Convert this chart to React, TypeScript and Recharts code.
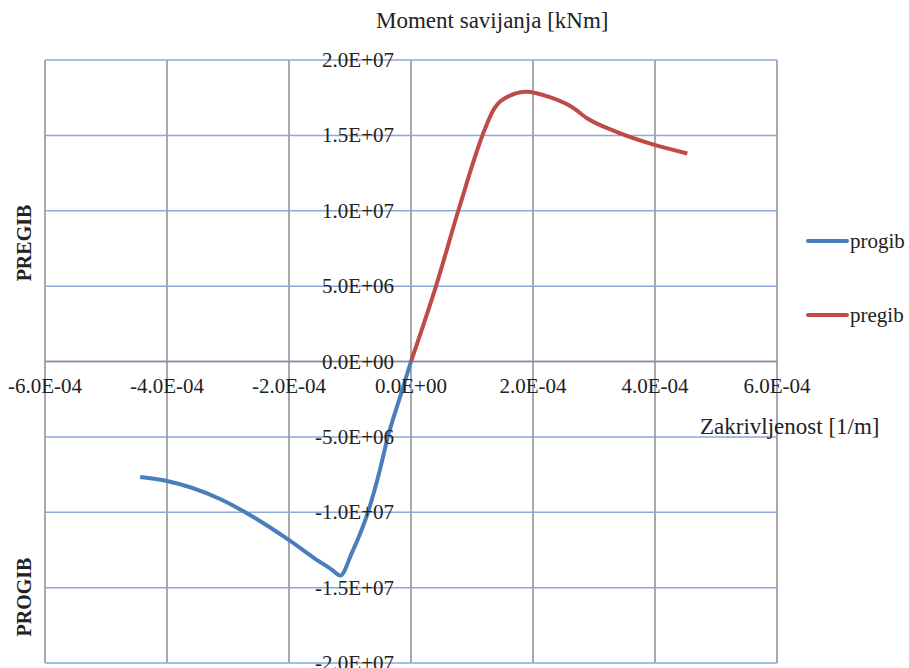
import React from "react";
import { CartesianGrid, Line, LineChart, ReferenceLine, XAxis, YAxis } from "recharts";

// progib (negativni moment)
const progibX = [-4.44e-4, -4.0e-4, -3.13e-4, -2.64e-4, -1.98e-4, -1.54e-4, -1.3e-4, -1.16e-4, -9.7e-5, -7.05e-5, -5.1e-5, -3.8e-5, -1.8e-5, 0];
const progibM = [-7.66e6, -7.93e6, -9.12e6, -1.018e7, -1.19e7, -1.317e7, -1.38e7, -1.42e7, -1.27e7, -9.99e6, -7.2e6, -5.0e6, -2.36e6, 0];

// pregib (pozitivni moment)
const pregibX = [0, 4.1e-5, 7.9e-5, 1.2e-4, 1.34e-4, 1.48e-4, 1.89e-4, 2.3e-4, 2.63e-4, 2.9e-4, 3.39e-4, 4.05e-4, 4.53e-4];
const pregibM = [0, 5.0e6, 1.02e7, 1.53e7, 1.66e7, 1.73e7, 1.79e7, 1.75e7, 1.69e7, 1.61e7, 1.52e7, 1.43e7, 1.38e7];

const xTicks = [-6e-4, -4e-4, -2e-4, 0, 2e-4, 4e-4, 6e-4];
const xTickLabels = ["-6.0E-04", "-4.0E-04", "-2.0E-04", "0.0E+00", "2.0E-04", "4.0E-04", "6.0E-04"];
const yTicks = [-2e7, -1.5e7, -1e7, -5e6, 0, 5e6, 1e7, 1.5e7, 2e7];
const yTickLabels = ["-2.0E+07", "-1.5E+07", "-1.0E+07", "-5.0E+06", "0.0E+00", "5.0E+06", "1.0E+07", "1.5E+07", "2.0E+07"];

const progibData = progibX.map((x, i) => ({ x, m: progibM[i] }));
const pregibData = pregibX.map((x, i) => ({ x, m: pregibM[i] }));

const W = 909;
const H = 668;
const margin = { top: 60, right: 132, bottom: 4, left: 44 };
const plotLeft = margin.left + 1;
const plotBottom = H - margin.bottom - 1;
const zeroX = plotLeft + (W - margin.right - plotLeft) / 2;
const zeroY = margin.top + (plotBottom - margin.top) / 2;

const font = "'Liberation Serif', 'Times New Roman', serif";
const blue = "#4a7ebb";
const red = "#be4b48";
const ink = "#222";

function XTick(props: any) {
  const i = xTicks.indexOf(props.payload.value);
  return (
    <text x={props.x} y={zeroY + 31} textAnchor="middle" fontFamily={font} fontSize={21} fill={ink}>
      {xTickLabels[i]}
    </text>
  );
}

function YTick(props: any) {
  const i = yTicks.indexOf(props.payload.value);
  return (
    <text x={zeroX - 17} y={props.y + 7} textAnchor="end" fontFamily={font} fontSize={21} fill={ink}>
      {yTickLabels[i]}
    </text>
  );
}

const legendItems = [
  { name: "progib", color: blue, top: 229 },
  { name: "pregib", color: red, top: 303 },
];

export default function App() {
  return (
    <div style={{ position: "absolute", left: 0, top: 0, width: W, height: H, background: "#fff" }}>
      <LineChart width={W} height={H} margin={margin}>
        <CartesianGrid horizontal={false} stroke="#8c8c8c" strokeWidth={1.5} />
        <CartesianGrid vertical={false} stroke="#8fa6d9" strokeWidth={1.5} />
        <XAxis
          dataKey="x"
          type="number"
          domain={[-6e-4, 6e-4]}
          ticks={xTicks}
          interval={0}
          height={1}
          axisLine={false}
          tickLine={false}
          tick={<XTick />}
          allowDataOverflow
        />
        <YAxis
          type="number"
          domain={[-2e7, 2e7]}
          ticks={yTicks}
          interval={0}
          width={1}
          axisLine={false}
          tickLine={false}
          tick={<YTick />}
          allowDataOverflow
        />
        <ReferenceLine y={0} stroke="#8c8c8c" strokeWidth={1.5} />
        <Line data={progibData} dataKey="m" type="monotone" stroke={blue} strokeWidth={4} dot={false} isAnimationActive={false} name="progib" />
        <Line data={pregibData} dataKey="m" type="monotone" stroke={red} strokeWidth={4} dot={false} isAnimationActive={false} name="pregib" />
      </LineChart>
      {legendItems.map((it) => (
        <div key={it.name} style={{ position: "absolute", left: 806, top: it.top, height: 24, display: "flex", alignItems: "center", fontFamily: font, fontSize: 21, color: ink }}>
          <span style={{ display: "inline-block", width: 43, height: 4, background: it.color, borderRadius: 2, marginRight: 1 }} />
          {it.name}
        </div>
      ))}
      <div style={{ position: "absolute", left: 376, top: 8, whiteSpace: "nowrap", fontFamily: font, fontSize: 23, color: ink }}>
        Moment savijanja [kNm]
      </div>
      <div style={{ position: "absolute", left: 700, top: 414, whiteSpace: "nowrap", fontFamily: font, fontSize: 23, color: ink }}>
        Zakrivljenost [1/m]
      </div>
      <div style={{ position: "absolute", left: 24, top: 243, transform: "translate(-50%, -50%) rotate(-90deg)", fontFamily: font, fontSize: 20, fontWeight: "bold", color: ink }}>
        PREGIB
      </div>
      <div style={{ position: "absolute", left: 24, top: 597, transform: "translate(-50%, -50%) rotate(-90deg)", fontFamily: font, fontSize: 20, fontWeight: "bold", color: ink }}>
        PROGIB
      </div>
    </div>
  );
}
